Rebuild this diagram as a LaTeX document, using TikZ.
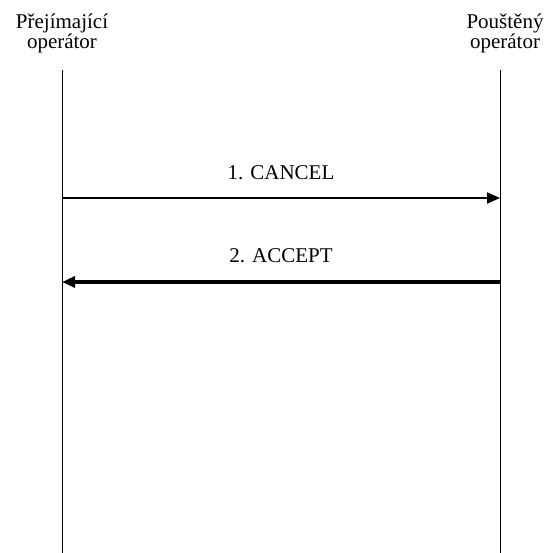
\documentclass[tikz,border=0pt]{standalone}
\usepackage{fontspec}
\setmainfont{Liberation Serif}
\usetikzlibrary{arrows.meta,positioning}

\begin{document}
\begin{tikzpicture}[x=1pt,y=-1pt, font=\fontsize{21}{20}\selectfont,
 party/.style={align=center,inner sep=0pt},
 life/.style={line width=0.8pt},
 msg/.style={-{Triangle[length=13pt,width=11pt]}},
 lbl/.style={inner sep=0pt}]
\useasboundingbox (0,0) rectangle (549,553);
\node[party] (p) at (62,33) {Přejímající\\operátor};
\node[party] (q) at (505,33) {Pouštěný\\operátor};
\coordinate (pt) at (62,70); \coordinate (pb) at (62,553);
\coordinate (qt) at (500,70); \coordinate (qb) at (500,553);
\draw[life] (pt)--(pb);\draw[life] (qt)--(qb);
\coordinate (c1) at (62,198); \coordinate (c2) at (500,198);
\coordinate (a1) at (500,282); \coordinate (a2) at (62,282);
\draw[msg,line width=2pt] (c1)--(c2) node[lbl,midway,above=17pt] (m1) {1. CANCEL};
\draw[msg,line width=4pt] (a1)--(a2) node[lbl,midway,above=17pt] (m2) {2. ACCEPT};
\end{tikzpicture}
\end{document}
